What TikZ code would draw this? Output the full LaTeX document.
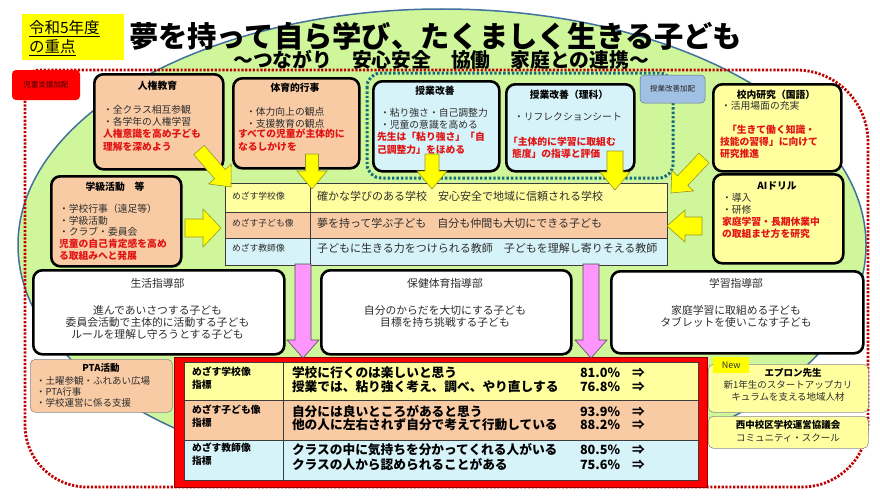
\documentclass[tikz,border=0pt]{standalone}
\usepackage{fontspec}
\setmainfont{Noto Sans CJK JP}
\definecolor{peach}{RGB}{249,203,165}
\definecolor{lcyan}{RGB}{215,243,250}
\definecolor{lyel}{RGB}{255,255,160}
\definecolor{lgreen}{RGB}{208,246,155}
\definecolor{eblue}{RGB}{65,113,156}
\definecolor{dred}{RGB}{192,0,0}
\definecolor{rtxt}{RGB}{225,20,20}
\definecolor{teal2}{RGB}{20,110,120}
\definecolor{kahaic}{RGB}{160,192,228}
\definecolor{pink2}{RGB}{255,150,255}
\definecolor{ayel}{RGB}{255,255,0}
\definecolor{tblc}{RGB}{60,60,60}
\definecolor{bodyc}{RGB}{45,45,45}
\newcommand\barr[8]{%
 \pgfmathsetmacro\bdx{(#4)-(#2)}%
 \pgfmathsetmacro\bdy{(#3)-(#5)}%
 \pgfmathsetmacro\bang{atan2(\bdy,\bdx)}%
 \pgfmathsetmacro\blen{veclen(\bdx,\bdy)}%
 \pgfmathsetmacro\bneck{\blen-#8}%
 \begin{scope}[shift={(#2,#3)},rotate=\bang]
 \draw[#1] (0,-#6) -- (\bneck,-#6) -- (\bneck,-#7) -- (\blen,0) -- (\bneck,#7) -- (\bneck,#6) -- (0,#6) -- cycle;
 \end{scope}}
\begin{document}
\begin{tikzpicture}[x=1pt,y=-1pt,
 tx/.style={inner sep=0pt,outer sep=0pt},
 bodytx/.style={tx,anchor=west,text=bodyc,font=\fontsize{9.8}{11}\selectfont},
 redtx/.style={tx,anchor=west,text=rtxt,font=\fontsize{9.8}{11}\selectfont\bfseries},
 ttltx/.style={tx,font=\fontsize{9.8}{11}\selectfont\bfseries},
 bigtx/.style={tx,text=bodyc,font=\fontsize{10.8}{12}\selectfont},
 box/.style={draw=black,line width=2.6pt,rounded corners=9pt,anchor=north west},
 thinbox/.style={draw=black!45,line width=0.6pt,rounded corners=5pt,anchor=north west},
 cell/.style={draw=tblc,line width=0.7pt,anchor=north west,inner sep=0pt},
 yelarr/.style={fill=ayel,draw={rgb,255:red,150;green,150;blue,40},line width=0.6pt},
 pinkarr/.style={fill=pink2,draw=black!70,line width=0.6pt},
 reddot/.style={draw=dred,line width=2.8pt,dash pattern=on 2.2pt off 1.6pt},
 tealdot/.style={draw=teal2,line width=3pt,dash pattern=on 2.4pt off 2pt}]
\useasboundingbox (0,0) rectangle (880,495);
\fill[white] (0,0) rectangle (880,495);
% background ellipse
\draw[fill=lgreen,draw=eblue,line width=1.5pt] (442,245) ellipse [x radius=424,y radius=236];
% red dotted frame
\draw[reddot] (25,84) .. controls (25,76.3) and (31.3,70) .. (39,70) -- (796,70)
  .. controls (835.8,70) and (868,102.2) .. (868,142) -- (868,421)
  .. controls (868,457.4) and (838.4,487) .. (802,487) -- (87,487)
  .. controls (52.8,487) and (25,459.2) .. (25,425) -- cycle;
% teal dotted frame
\draw[tealdot,rounded corners=14pt] (367,73) rectangle (673,178);
% title
\node[fill=ayel,minimum width=102,minimum height=46,anchor=north west] (ybox) at (22,14) {};
\node[tx,anchor=west,font=\fontsize{15.5}{16}\selectfont] (ybox1) at (29,29) {\underline{令和5年度}};
\node[tx,anchor=west,font=\fontsize{15.5}{16}\selectfont] (ybox2) at (29,48) {\underline{の重点}};
\node[tx,anchor=west,font=\fontsize{29.3}{30}\selectfont\bfseries] (title) at (129,36) {夢を持って自ら学び、たくましく生きる子ども};
\node[tx,font=\fontsize{19.8}{20}\selectfont\bfseries] (subtitle) at (441,60) {～つながり　安心安全　協働　家庭との連携～};
% small labels
\node[fill=red,rounded corners=4pt,minimum width=68,minimum height=30,font=\fontsize{7.5}{8}\selectfont,text=black!75!red] (shien) at (46,85) {児童支援加配};
\node[fill=kahaic,draw=kahaic!60!black,line width=0.5pt,rounded corners=4pt,minimum width=65,minimum height=28,font=\fontsize{7.5}{8}\selectfont,text=black!85] (kahai) at (672.5,89) {授業改善加配};
% top boxes
\node[box,fill=peach,minimum width=129,minimum height=95] (jinken) at (93,73) {};
\node[ttltx] (jinkent) at (157.5,86) {人権教育};
\foreach \itm [count=\i] in {・全クラス相互参観,・各学年の人権学習}
  \node[bodytx] (jinkenb\i) at (103,{110+12*(\i-1)}) {\itm};
\foreach \itm [count=\i] in {人権意識を高め子ども,理解を深めよう}
  \node[redtx] (jinkenr\i) at (103,{134+13*(\i-1)}) {\itm};

\node[box,fill=peach,minimum width=126,minimum height=90] (taiiku) at (232,77) {};
\node[ttltx] (taiikut) at (295,88) {体育的行事};
\foreach \itm [count=\i] in {・体力向上の観点,・支援教育の観点}
  \node[bodytx] (taiikub\i) at (246,{112+11.5*(\i-1)}) {\itm};
\foreach \itm [count=\i] in {すべての児童が主体的に,なるしかけを}
  \node[redtx] (taiikur\i) at (238,{134+13*(\i-1)}) {\itm};

\node[box,fill=lcyan,minimum width=126,minimum height=90] (jugyo) at (372,80) {};
\node[ttltx] (jugyot) at (435,91) {授業改善};
\foreach \itm [count=\i] in {・粘り強さ・自己調整力,・児童の意識を高める}
  \node[bodytx] (jugyob\i) at (380,{113+12*(\i-1)}) {\itm};
\foreach \itm [count=\i] in {先生は「粘り強さ」「自,己調整力」をほめる}
  \node[redtx] (jugyor\i) at (377,{137+12.5*(\i-1)}) {\itm};

\node[box,fill=lcyan,minimum width=128,minimum height=87] (rika) at (505,83) {};
\node[ttltx] (rikat) at (569,95) {授業改善（理科）};
\node[bodytx] (rikab1) at (514,117) {・リフレクションシート};
\node[redtx] (rikar1) at (508,142) {「主体的に学習に取組む};
\node[redtx] (rikar2) at (512,154) {態度」の指導と評価};

\node[box,fill=lyel,minimum width=128,minimum height=87] (konai) at (712,83) {};
\node[ttltx] (konait) at (776,95) {校内研究（国語）};
\node[bodytx] (konaib1) at (721,106) {・活用場面の充実};
\node[redtx] (konair1) at (727,130) {「生きて働く知識・};
\node[redtx] (konair2) at (720,142) {技能の習得」に向けて};
\node[redtx] (konair3) at (720,154) {研究推進};

\node[box,fill=lyel,minimum width=130,minimum height=89] (ai) at (712,173) {};
\node[ttltx] (ait) at (777,186) {AIドリル};
\foreach \itm [count=\i] in {・導入,・研修}
  \node[bodytx] (aib\i) at (722,{198+12*(\i-1)}) {\itm};
\foreach \itm [count=\i] in {家庭学習・長期休業中,の取組ませ方を研究}
  \node[redtx] (air\i) at (722,{222+12*(\i-1)}) {\itm};

\node[box,fill=peach,minimum width=130,minimum height=90] (gakkyu) at (50,175) {};
\node[ttltx] (gakkyut) at (115,187) {学級活動　等};
\foreach \itm [count=\i] in {・学校行事（遠足等）,・学級活動,・クラブ・委員会}
  \node[bodytx] (gakkyub\i) at (59,{209+11.5*(\i-1)}) {\itm};
\foreach \itm [count=\i] in {児童の自己肯定感を高め,る取組みへと発展}
  \node[redtx] (gakkyur\i) at (59,{244+12*(\i-1)}) {\itm};

% middle table
\node[cell,fill=lyel,minimum width=442,minimum height=29] (row1) at (225,183) {};
\node[cell,fill=peach,minimum width=442,minimum height=26] (row2) at (225,212) {};
\node[cell,fill=lcyan,minimum width=442,minimum height=27] (row3) at (225,238) {};
\draw[tblc,line width=0.7pt] (310,183) -- (310,265);
\foreach \itm/\yy [count=\i] in {めざす学校像/196,めざす子ども像/223,めざす教師像/248}
  \node[tx,anchor=west,text=bodyc,font=\fontsize{8.8}{10}\selectfont] (lab\i) at (232,\yy) {\itm};
\foreach \itm/\yy [count=\i] in {確かな学びのある学校　安心安全で地域に信頼される学校/196,夢を持って学ぶ子ども　自分も仲間も大切にできる子ども/223,子どもに生きる力をつけられる教師　子どもを理解し寄りそえる教師/248}
  \node[tx,anchor=west,text=bodyc,font=\fontsize{11}{12}\selectfont] (val\i) at (317,\yy) {\itm};

% yellow arrows
\barr{yelarr}{199}{150}{231}{187}{7}{15}{17}
\barr{yelarr}{312}{154}{312}{189}{6.5}{15}{18}
\barr{yelarr}{432}{154}{432}{189}{7}{15}{18}
\barr{yelarr}{615}{151}{615}{190}{8}{15}{18}
\barr{yelarr}{704}{158}{671}{193}{7}{15}{17}
\barr{yelarr}{185}{228}{221}{228}{9}{19}{18}
\barr{yelarr}{702}{226}{667}{226}{9}{16}{18}

% bottom boxes
\node[box,fill=white,minimum width=251,minimum height=84] (seikatsu) at (32,269) {};
\node[bigtx] (seikatsut) at (157.5,283) {生活指導部};
\foreach \itm [count=\i] in {進んであいさつする子ども,委員会活動で主体的に活動する子ども,ルールを理解し守ろうとする子ども}
  \node[bigtx] (seikatsul\i) at (157.5,{310+12*(\i-1)}) {\itm};
\node[box,fill=white,minimum width=250,minimum height=84] (hoken) at (320,269) {};
\node[bigtx] (hokent) at (445,283) {保健体育指導部};
\foreach \itm [count=\i] in {自分のからだを大切にする子ども,目標を持ち挑戦する子ども}
  \node[bigtx] (hokenl\i) at (445,{310+12*(\i-1)}) {\itm};
\node[box,fill=white,minimum width=252,minimum height=82] (gakushu) at (610,270) {};
\node[bigtx] (gakushut) at (736,283) {学習指導部};
\foreach \itm [count=\i] in {家庭学習に取組める子ども,タブレットを使いこなす子ども}
  \node[bigtx] (gakushul\i) at (736,{310+12*(\i-1)}) {\itm};

% red table
\node[fill=red,draw=red!55!black,line width=0.6pt,minimum width=533,minimum height=130,anchor=north west] (redframe) at (174,357) {};
\node[cell,fill=lyel,minimum width=514,minimum height=38] (srow1) at (184,362) {};
\node[cell,fill=peach,minimum width=514,minimum height=40] (srow2) at (184,400) {};
\node[cell,fill=lcyan,minimum width=514,minimum height=40] (srow3) at (184,440) {};
\draw[tblc,line width=0.7pt] (283,362) -- (283,480);
\foreach \itm/\yy [count=\i] in {めざす学校像/372,指標/385,めざす子ども像/410,指標/423,めざす教師像/448,指標/461}
  \node[tx,anchor=west,font=\fontsize{9.8}{11}\selectfont\bfseries] (slab\i) at (192,\yy) {\itm};
\foreach \itm/\pc/\yy [count=\i] in {学校に行くのは楽しいと思う/81.0\%/373,授業では、粘り強く考え、調べ、やり直しする/76.8\%/387,自分には良いところがあると思う/93.9\%/412,他の人に左右されず自分で考えて行動している/88.2\%/425,クラスの中に気持ちを分かってくれる人がいる/80.5\%/450,クラスの人から認められることがある/75.6\%/465}{
  \node[tx,anchor=west,font=\fontsize{12.7}{13}\selectfont\bfseries] (stxt\i) at (292,\yy) {\itm};
  \node[tx,anchor=west,font=\fontsize{12.7}{13}\selectfont\bfseries] (spc\i) at (580,\yy) {\pc};
  \node[tx,anchor=west,font=\fontsize{12.7}{13}\selectfont\bfseries] (sarr\i) at (632,\yy) {⇒};
}

% pink arrows
\barr{pinkarr}{303}{264}{303}{358}{8}{16}{18}
\barr{pinkarr}{591}{264}{591}{358}{8}{16}{18}

% PTA
\node[thinbox,fill=peach,minimum width=142,minimum height=53] (pta) at (30,359) {};
\node[ttltx,font=\fontsize{9.5}{11}\selectfont\bfseries] (ptat) at (101,368) {PTA活動};
\foreach \itm [count=\i] in {・土曜参観・ふれあい広場,・PTA行事,・学校運営に係る支援}
  \node[bodytx,font=\fontsize{9.5}{11}\selectfont] (ptal\i) at (36,{381+11*(\i-1)}) {\itm};

% apron
\node[thinbox,fill=lyel,minimum width=160,minimum height=48] (apron) at (708,364) {};
\node[fill=ayel,minimum width=36,minimum height=16,anchor=north west,inner sep=0pt,font=\fontsize{9}{10}\selectfont,text=black!80] (newtag) at (713,357) {New};
\node[ttltx,font=\fontsize{9.5}{11}\selectfont\bfseries] (apront) at (793,373) {エプロン先生};
\foreach \itm [count=\i] in {新1年生のスタートアップカリ,キュラムを支える地域人材}
  \node[tx,text=bodyc,font=\fontsize{9.5}{11}\selectfont] (apronl\i) at (788,{385+12*(\i-1)}) {\itm};
\node[thinbox,fill=lyel,minimum width=160,minimum height=32] (nishi) at (708,416) {};
\node[ttltx,font=\fontsize{9.5}{11}\selectfont\bfseries] (nishit) at (788,425) {西中校区学校運営協議会};
\node[tx,text=bodyc,font=\fontsize{9.5}{11}\selectfont] (nishil) at (788,438) {コミュニティ・スクール};
\end{tikzpicture}
\end{document}
